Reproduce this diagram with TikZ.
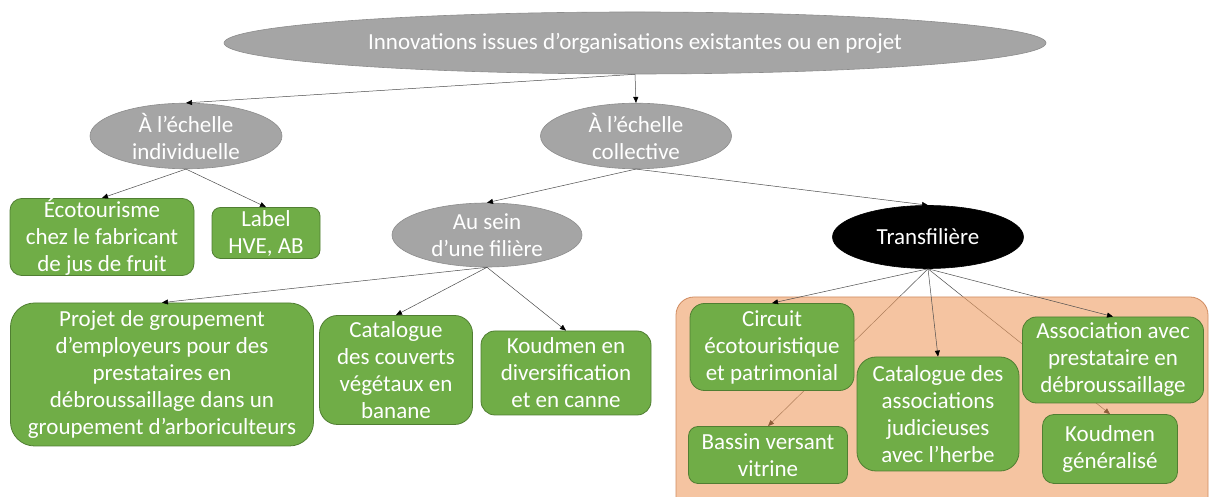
\documentclass[tikz,border=0pt]{standalone}
\usepackage{fontspec}
\setmainfont{Carlito}
\usetikzlibrary{shapes.geometric,arrows.meta,backgrounds}
\definecolor{boxgreen}{HTML}{70AD47}
\definecolor{boxgreenline}{HTML}{507E32}
\definecolor{ovalgray}{HTML}{A5A5A5}
\definecolor{ovalline}{HTML}{8C8C8C}
\definecolor{zonefill}{HTML}{EE9D62}
\definecolor{zoneline}{HTML}{D08B60}
\tikzset{
  oval/.style={ellipse,fill=ovalgray,draw=ovalline,line width=.6pt,text=white,
    align=center,inner sep=0pt,font=\fontsize{23}{27}\selectfont},
  greenbox/.style={rectangle,rounded corners=12pt,fill=boxgreen,draw=boxgreenline,
    line width=.8pt,text=white,align=center,inner sep=0pt,font=\fontsize{23}{27}\selectfont},
  link/.style={draw=black!70,line width=.5pt,-{Triangle[length=6pt,width=5pt,color=black]}},
}
\begin{document}
\begin{tikzpicture}[x=1pt,y=1pt]
\useasboundingbox (0,0) rectangle (1209,497);
% ovals
\node[oval,minimum width=822pt,minimum height=62pt] (top) at (635,454) {Innovations issues d’organisations existantes ou en projet};
\node[oval,minimum width=192pt,minimum height=65pt] (indiv) at (186,361) {À l’échelle\\individuelle};
\node[oval,minimum width=191pt,minimum height=65pt] (coll) at (636,361) {À l’échelle\\collective};
\node[oval,minimum width=190pt,minimum height=64pt] (ausein) at (487,262) {Au sein\\d’une filière};
\node[oval,fill=black,draw=black,minimum width=191pt,minimum height=63pt] (trans) at (928,260) {Transfilière};
% green boxes, left part
\node[greenbox,minimum width=184pt,minimum height=75pt] (ecotour) at (102,260) {Écotourisme\\chez le fabricant\\de jus de fruit};
\node[greenbox,rounded corners=8.5pt,minimum width=108pt,minimum height=51pt] (label) at (266,264) {Label\\HVE, AB};
\node[greenbox,rounded corners=24pt,minimum width=303pt,minimum height=143pt] (projet) at (162,122.5) {Projet de groupement\\d’employeurs pour des\\prestataires en\\débroussaillage dans un\\groupement d’arboriculteurs};
\node[greenbox,rounded corners=18pt,minimum width=153pt,minimum height=109pt] (catcouv) at (396,127) {Catalogue\\des couverts\\végétaux en\\banane};
\node[greenbox,rounded corners=14pt,minimum width=170pt,minimum height=84pt] (koudiv) at (566,124) {Koudmen en\\diversification\\et en canne};
% green boxes, transfiliere part
\node[greenbox,rounded corners=14.5pt,minimum width=164pt,minimum height=87pt] (circuit) at (772,150) {Circuit\\écotouristique\\et patrimonial};
\node[greenbox,rounded corners=9.5pt,minimum width=159pt,minimum height=57pt] (bassin) at (768,42) {Bassin versant\\vitrine};
\node[greenbox,rounded corners=19pt,minimum width=162pt,minimum height=114pt] (catassoc) at (938,83) {Catalogue des\\associations\\judicieuses\\avec l’herbe};
\node[greenbox,rounded corners=14pt,minimum width=181pt,minimum height=86pt] (assoc) at (1113,137) {Association avec\\prestataire en\\débroussaillage};
\node[greenbox,rounded corners=11.5pt,minimum width=135pt,minimum height=69pt] (koudgen) at (1110,48) {Koudmen\\généralisé};
% orange zone and the links seen through it
\begin{pgfonlayer}{background}
\draw[link] (trans.south) -- (bassin.north);
\draw[link] (trans.south) -- (koudgen.north);
\draw[draw=zoneline,line width=.8pt,fill=zonefill,fill opacity=.6,rounded corners=18pt] (676,200) rectangle (1208,-30);
\end{pgfonlayer}
% links
\draw[link] (top.south) -- (indiv.north);
\draw[link] (top.south) -- (coll.north);
\draw[link] (indiv.south) -- (ecotour.north);
\draw[link] (indiv.south) -- (label.north);
\draw[link] (coll.south) -- (ausein.north);
\draw[link] (coll.south) -- (trans.north);
\draw[link] (ausein.south) -- (projet.north);
\draw[link] (ausein.south) -- (catcouv.north);
\draw[link] (ausein.south) -- (koudiv.north);
\draw[link] (trans.south) -- (circuit.north);
\draw[link] (trans.south) -- (catassoc.north);
\draw[link] (trans.south) -- (assoc.north);
\end{tikzpicture}
\end{document}
